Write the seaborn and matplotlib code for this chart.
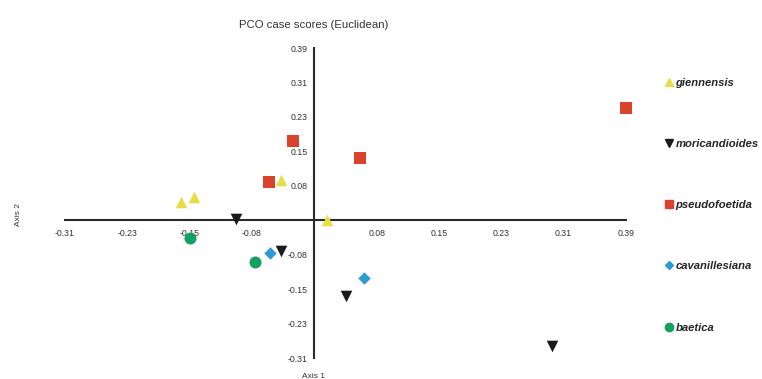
import pandas as pd
import seaborn as sns
import matplotlib.pyplot as plt
from matplotlib.lines import Line2D

# Species scores
species_order = ["giennensis", "moricandioides", "pseudofoetida", "cavanillesiana", "baetica"]

giennensis_x = [-0.167, -0.150, -0.041, 0.016]
giennensis_y = [0.041, 0.052, 0.090, 0.000]

moricandioides_x = [-0.098, -0.041, 0.040, 0.297]
moricandioides_y = [0.002, -0.070, -0.172, -0.283]

pseudofoetida_x = [0.389, -0.027, 0.057, -0.057]
pseudofoetida_y = [0.253, 0.179, 0.140, 0.086]

cavanillesiana_x = [-0.055, 0.062]
cavanillesiana_y = [-0.075, -0.131]

baetica_x = [-0.155, -0.074]
baetica_y = [-0.041, -0.095]

tick_labels_x = ["-0.31", "-0.23", "-0.15", "-0.08", "", "0.08", "0.15", "0.23", "0.31", "0.39"]
tick_labels_y = ["-0.31", "-0.23", "-0.15", "-0.08", "", "0.08", "0.15", "0.23", "0.31", "0.39"]

colors = {"giennensis": "#e6dc45", "moricandioides": "#1c1a1a", "pseudofoetida": "#d9432b",
          "cavanillesiana": "#2e9ad2", "baetica": "#14a063"}
markers = {"giennensis": "^", "moricandioides": "v", "pseudofoetida": "s",
           "cavanillesiana": "D", "baetica": "o"}
sizes = {"giennensis": 70, "moricandioides": 70, "pseudofoetida": 75,
         "cavanillesiana": 40, "baetica": 75}

xs = [giennensis_x, moricandioides_x, pseudofoetida_x, cavanillesiana_x, baetica_x]
ys = [giennensis_y, moricandioides_y, pseudofoetida_y, cavanillesiana_y, baetica_y]
rows = []
for sp, xv, yv in zip(species_order, xs, ys):
    for a, b in zip(xv, yv):
        rows.append({"x": a, "y": b, "species": sp})
df = pd.DataFrame(rows)

sns.set_style("white")
plt.rcParams['font.family'] = ['Liberation Sans', 'DejaVu Sans']

fig = plt.figure(figsize=(7.62, 3.79), dpi=100)
ax = fig.add_axes([65 / 762, 21 / 379, 561 / 762, 310 / 379])

for sp in species_order:
    sub = df[df["species"] == sp]
    sns.scatterplot(data=sub, x="x", y="y", color=colors[sp], marker=markers[sp],
                    s=sizes[sp], linewidth=0, ax=ax, clip_on=False, zorder=3)

step = 0.389 / 5
ticks = [step * k for k in range(-4, 6)]
ax.set_xlim(-4 * step, 5 * step)
ax.set_ylim(-4 * step, 5 * step)
ax.set_xticks(ticks)
ax.set_xticklabels(tick_labels_x)
ax.set_yticks(ticks)
ax.set_yticklabels(tick_labels_y)

for side in ["top", "right"]:
    ax.spines[side].set_visible(False)
ax.spines["left"].set_position(("data", 0))
ax.spines["bottom"].set_position(("data", 0))
ax.spines["left"].set_color("#2a2a2a")
ax.spines["bottom"].set_color("#2a2a2a")
ax.spines["left"].set_linewidth(1.5)
ax.spines["bottom"].set_linewidth(1.5)
ax.tick_params(axis="x", direction="in", length=4, width=0.6, color="#aaaaaa",
               labelsize=6.3, labelcolor="#333333", pad=6)
ax.tick_params(axis="y", direction="out", length=3, width=0.6, color="#aaaaaa",
               labelsize=6.3, labelcolor="#333333", pad=2)
ax.set_xlabel("")
ax.set_ylabel("")

fig.text(314 / 762, 1 - 25 / 379, "PCO case scores (Euclidean)", ha="center", va="center",
         fontsize=8.2, color="#333333")
fig.text(314 / 762, 1 - 377 / 379, "Axis 1", ha="center", va="center", fontsize=6, color="#333333")
fig.text(18 / 762, 1 - 215 / 379, "Axis 2", ha="center", va="center", fontsize=6,
         color="#333333", rotation=90)

handles = [Line2D([], [], linestyle="none", marker=markers[sp], color=colors[sp],
                  markersize=6 if sp != "cavanillesiana" else 4.5) for sp in species_order]
ax.legend(handles, species_order, loc="upper left", bbox_to_anchor=(659 / 762, 1 - 73 / 379),
          bbox_transform=fig.transFigure, frameon=False, labelspacing=4.56,
          handletextpad=0.05, handlelength=1.0, borderaxespad=0,
          prop={"weight": "bold", "style": "italic", "size": 8.1})

fig.savefig("out.png", dpi=100)
